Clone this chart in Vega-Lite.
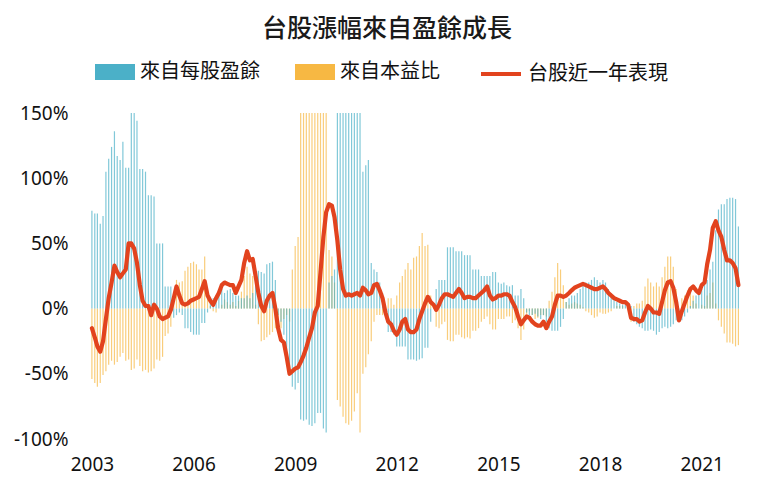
{
  "$schema": "https://vega.github.io/schema/vega-lite/v6.json",
  "autosize": {"type": "none"},
  "width": 672,
  "height": 326,
  "padding": {"left": 78, "top": 113, "right": 10, "bottom": 53},
  "background": "white",
  "title": {"text": "台股漲幅來自盈餘成長", "font": "Noto Sans CJK TC", "fontSize": 25, "fontWeight": 500, "color": "#1a1a1a", "anchor": "middle", "frame": "group", "dx": -27, "offset": 10},
  "config": {"view": {"stroke": null}},
  "data": {"values": [
{"date":"2003-01-01","eps":75,"pe":-54,"perf":-15},
{"date":"2003-02-01","eps":73,"pe":-57,"perf":-22},
{"date":"2003-03-01","eps":73,"pe":-60,"perf":-29},
{"date":"2003-04-01","eps":65,"pe":-57,"perf":-33},
{"date":"2003-05-01","eps":71,"pe":-51,"perf":-25},
{"date":"2003-06-01","eps":105,"pe":-48,"perf":-8},
{"date":"2003-07-01","eps":115,"pe":-43,"perf":8},
{"date":"2003-08-01","eps":124,"pe":-40,"perf":20},
{"date":"2003-09-01","eps":136,"pe":-43,"perf":33},
{"date":"2003-10-01","eps":117,"pe":-41,"perf":28},
{"date":"2003-11-01","eps":114,"pe":-37,"perf":24},
{"date":"2003-12-01","eps":128,"pe":-34,"perf":27},
{"date":"2004-01-01","eps":108,"pe":-40,"perf":30},
{"date":"2004-02-01","eps":108,"pe":-39,"perf":50},
{"date":"2004-03-01","eps":150,"pe":-47,"perf":50},
{"date":"2004-04-01","eps":150,"pe":-46,"perf":46},
{"date":"2004-05-01","eps":144,"pe":-39,"perf":35},
{"date":"2004-06-01","eps":107,"pe":-44,"perf":18},
{"date":"2004-07-01","eps":107,"pe":-48,"perf":6},
{"date":"2004-08-01","eps":105,"pe":-47,"perf":2},
{"date":"2004-09-01","eps":87,"pe":-49,"perf":2},
{"date":"2004-10-01","eps":87,"pe":-48,"perf":-5},
{"date":"2004-11-01","eps":86,"pe":-46,"perf":3},
{"date":"2004-12-01","eps":50,"pe":-39,"perf":0},
{"date":"2005-01-01","eps":50,"pe":-40,"perf":-6},
{"date":"2005-02-01","eps":50,"pe":-37,"perf":-8},
{"date":"2005-03-01","eps":17,"pe":-21,"perf":-7},
{"date":"2005-04-01","eps":17,"pe":-19,"perf":-6},
{"date":"2005-05-01","eps":17,"pe":-14,"perf":-1},
{"date":"2005-06-01","eps":-7,"pe":10,"perf":8},
{"date":"2005-07-01","eps":-5,"pe":22,"perf":17},
{"date":"2005-08-01","eps":-3,"pe":20,"perf":10},
{"date":"2005-09-01","eps":-5,"pe":21,"perf":4},
{"date":"2005-10-01","eps":-15,"pe":29,"perf":3},
{"date":"2005-11-01","eps":-15,"pe":32,"perf":4},
{"date":"2005-12-01","eps":-18,"pe":35,"perf":6},
{"date":"2006-01-01","eps":-20,"pe":36,"perf":7},
{"date":"2006-02-01","eps":-20,"pe":34,"perf":8},
{"date":"2006-03-01","eps":-20,"pe":30,"perf":9},
{"date":"2006-04-01","eps":-11,"pe":30,"perf":15},
{"date":"2006-05-01","eps":-11,"pe":40,"perf":21},
{"date":"2006-06-01","eps":-3,"pe":14,"perf":10},
{"date":"2006-07-01","eps":5,"pe":2,"perf":6},
{"date":"2006-08-01","eps":8,"pe":-2,"perf":3},
{"date":"2006-09-01","eps":10,"pe":-3,"perf":8},
{"date":"2006-10-01","eps":12,"pe":0,"perf":12},
{"date":"2006-11-01","eps":15,"pe":3,"perf":18},
{"date":"2006-12-01","eps":12,"pe":7,"perf":20},
{"date":"2007-01-01","eps":14,"pe":5,"perf":19},
{"date":"2007-02-01","eps":15,"pe":3,"perf":18},
{"date":"2007-03-01","eps":12,"pe":5,"perf":18},
{"date":"2007-04-01","eps":10,"pe":2,"perf":12},
{"date":"2007-05-01","eps":10,"pe":6,"perf":17},
{"date":"2007-06-01","eps":8,"pe":13,"perf":22},
{"date":"2007-07-01","eps":8,"pe":25,"perf":35},
{"date":"2007-08-01","eps":10,"pe":32,"perf":44},
{"date":"2007-09-01","eps":8,"pe":27,"perf":37},
{"date":"2007-10-01","eps":12,"pe":25,"perf":38},
{"date":"2007-11-01","eps":25,"pe":3,"perf":25},
{"date":"2007-12-01","eps":29,"pe":-12,"perf":12},
{"date":"2008-01-01","eps":28,"pe":-25,"perf":2},
{"date":"2008-02-01","eps":27,"pe":-24,"perf":-2},
{"date":"2008-03-01","eps":34,"pe":-22,"perf":6},
{"date":"2008-04-01","eps":35,"pe":-20,"perf":10},
{"date":"2008-05-01","eps":36,"pe":-18,"perf":12},
{"date":"2008-06-01","eps":22,"pe":-15,"perf":0},
{"date":"2008-07-01","eps":-5,"pe":-10,"perf":-15},
{"date":"2008-08-01","eps":-10,"pe":-15,"perf":-24},
{"date":"2008-09-01","eps":-20,"pe":-8,"perf":-26},
{"date":"2008-10-01","eps":-35,"pe":-5,"perf":-37},
{"date":"2008-11-01","eps":-45,"pe":-10,"perf":-50},
{"date":"2008-12-01","eps":-60,"pe":30,"perf":-48},
{"date":"2009-01-01","eps":-62,"pe":48,"perf":-46},
{"date":"2009-02-01","eps":-57,"pe":55,"perf":-45},
{"date":"2009-03-01","eps":-85,"pe":150,"perf":-41},
{"date":"2009-04-01","eps":-86,"pe":150,"perf":-36},
{"date":"2009-05-01","eps":-85,"pe":150,"perf":-30},
{"date":"2009-06-01","eps":-89,"pe":150,"perf":-22},
{"date":"2009-07-01","eps":-90,"pe":150,"perf":-15},
{"date":"2009-08-01","eps":-88,"pe":150,"perf":-3},
{"date":"2009-09-01","eps":-80,"pe":150,"perf":2},
{"date":"2009-10-01","eps":-80,"pe":150,"perf":28},
{"date":"2009-11-01","eps":-92,"pe":150,"perf":55},
{"date":"2009-12-01","eps":-95,"pe":150,"perf":74},
{"date":"2010-01-01","eps":20,"pe":45,"perf":80},
{"date":"2010-02-01","eps":25,"pe":40,"perf":79},
{"date":"2010-03-01","eps":30,"pe":20,"perf":70},
{"date":"2010-04-01","eps":150,"pe":-70,"perf":52},
{"date":"2010-05-01","eps":150,"pe":-75,"perf":30},
{"date":"2010-06-01","eps":150,"pe":-83,"perf":15},
{"date":"2010-07-01","eps":150,"pe":-88,"perf":10},
{"date":"2010-08-01","eps":150,"pe":-89,"perf":11},
{"date":"2010-09-01","eps":150,"pe":-86,"perf":10},
{"date":"2010-10-01","eps":150,"pe":-79,"perf":11},
{"date":"2010-11-01","eps":150,"pe":-65,"perf":12},
{"date":"2010-12-01","eps":150,"pe":-95,"perf":10},
{"date":"2011-01-01","eps":105,"pe":-50,"perf":16},
{"date":"2011-02-01","eps":110,"pe":-45,"perf":14},
{"date":"2011-03-01","eps":114,"pe":-35,"perf":11},
{"date":"2011-04-01","eps":35,"pe":-25,"perf":12},
{"date":"2011-05-01","eps":30,"pe":-10,"perf":18},
{"date":"2011-06-01","eps":28,"pe":-5,"perf":19},
{"date":"2011-07-01","eps":20,"pe":-5,"perf":14},
{"date":"2011-08-01","eps":12,"pe":-5,"perf":8},
{"date":"2011-09-01","eps":-5,"pe":0,"perf":-3},
{"date":"2011-10-01","eps":-18,"pe":8,"perf":-10},
{"date":"2011-11-01","eps":-18,"pe":8,"perf":-12},
{"date":"2011-12-01","eps":-20,"pe":3,"perf":-17},
{"date":"2012-01-01","eps":-29,"pe":10,"perf":-20},
{"date":"2012-02-01","eps":-29,"pe":20,"perf":-16},
{"date":"2012-03-01","eps":-29,"pe":25,"perf":-10},
{"date":"2012-04-01","eps":-29,"pe":30,"perf":-8},
{"date":"2012-05-01","eps":-39,"pe":35,"perf":-16},
{"date":"2012-06-01","eps":-39,"pe":30,"perf":-18},
{"date":"2012-07-01","eps":-39,"pe":39,"perf":-18},
{"date":"2012-08-01","eps":-40,"pe":40,"perf":-16},
{"date":"2012-09-01","eps":-39,"pe":48,"perf":-8},
{"date":"2012-10-01","eps":-38,"pe":58,"perf":-2},
{"date":"2012-11-01","eps":-30,"pe":48,"perf":4},
{"date":"2012-12-01","eps":-30,"pe":49,"perf":9},
{"date":"2013-01-01","eps":-10,"pe":10,"perf":5},
{"date":"2013-02-01","eps":0,"pe":3,"perf":3},
{"date":"2013-03-01","eps":15,"pe":-14,"perf":-1},
{"date":"2013-04-01","eps":22,"pe":-15,"perf":3},
{"date":"2013-05-01","eps":22,"pe":-12,"perf":8},
{"date":"2013-06-01","eps":22,"pe":-10,"perf":11},
{"date":"2013-07-01","eps":47,"pe":-24,"perf":11},
{"date":"2013-08-01","eps":47,"pe":-25,"perf":10},
{"date":"2013-09-01","eps":47,"pe":-25,"perf":9},
{"date":"2013-10-01","eps":44,"pe":-20,"perf":12},
{"date":"2013-11-01","eps":44,"pe":-20,"perf":15},
{"date":"2013-12-01","eps":44,"pe":-22,"perf":12},
{"date":"2014-01-01","eps":41,"pe":-23,"perf":8},
{"date":"2014-02-01","eps":41,"pe":-22,"perf":9},
{"date":"2014-03-01","eps":41,"pe":-23,"perf":9},
{"date":"2014-04-01","eps":30,"pe":-17,"perf":8},
{"date":"2014-05-01","eps":30,"pe":-17,"perf":8},
{"date":"2014-06-01","eps":30,"pe":-15,"perf":10},
{"date":"2014-07-01","eps":25,"pe":-10,"perf":12},
{"date":"2014-08-01","eps":25,"pe":-8,"perf":14},
{"date":"2014-09-01","eps":25,"pe":-6,"perf":17},
{"date":"2014-10-01","eps":25,"pe":-12,"perf":10},
{"date":"2014-11-01","eps":28,"pe":-16,"perf":7},
{"date":"2014-12-01","eps":28,"pe":-16,"perf":8},
{"date":"2015-01-01","eps":20,"pe":-8,"perf":10},
{"date":"2015-02-01","eps":19,"pe":-8,"perf":10},
{"date":"2015-03-01","eps":20,"pe":-8,"perf":11},
{"date":"2015-04-01","eps":18,"pe":-6,"perf":11},
{"date":"2015-05-01","eps":17,"pe":-6,"perf":10},
{"date":"2015-06-01","eps":18,"pe":-11,"perf":5},
{"date":"2015-07-01","eps":10,"pe":-9,"perf":1},
{"date":"2015-08-01","eps":10,"pe":-15,"perf":-6},
{"date":"2015-09-01","eps":15,"pe":-24,"perf":-12},
{"date":"2015-10-01","eps":8,"pe":-16,"perf":-9},
{"date":"2015-11-01","eps":-3,"pe":-4,"perf":-6},
{"date":"2015-12-01","eps":-5,"pe":-2,"perf":-7},
{"date":"2016-01-01","eps":-5,"pe":-5,"perf":-10},
{"date":"2016-02-01","eps":-4,"pe":-8,"perf":-12},
{"date":"2016-03-01","eps":-6,"pe":-7,"perf":-13},
{"date":"2016-04-01","eps":-8,"pe":-5,"perf":-13},
{"date":"2016-05-01","eps":-5,"pe":-5,"perf":-10},
{"date":"2016-06-01","eps":-10,"pe":-6,"perf":-15},
{"date":"2016-07-01","eps":-15,"pe":6,"perf":-10},
{"date":"2016-08-01","eps":-17,"pe":13,"perf":-6},
{"date":"2016-09-01","eps":-17,"pe":24,"perf":3},
{"date":"2016-10-01","eps":-17,"pe":35,"perf":10},
{"date":"2016-11-01","eps":-14,"pe":30,"perf":10},
{"date":"2016-12-01","eps":-8,"pe":18,"perf":9},
{"date":"2017-01-01","eps":5,"pe":5,"perf":10},
{"date":"2017-02-01","eps":8,"pe":3,"perf":12},
{"date":"2017-03-01","eps":10,"pe":4,"perf":14},
{"date":"2017-04-01","eps":10,"pe":5,"perf":16},
{"date":"2017-05-01","eps":12,"pe":4,"perf":17},
{"date":"2017-06-01","eps":15,"pe":3,"perf":18},
{"date":"2017-07-01","eps":18,"pe":1,"perf":19},
{"date":"2017-08-01","eps":20,"pe":-2,"perf":18},
{"date":"2017-09-01","eps":20,"pe":-3,"perf":17},
{"date":"2017-10-01","eps":22,"pe":-5,"perf":16},
{"date":"2017-11-01","eps":24,"pe":-7,"perf":15},
{"date":"2017-12-01","eps":22,"pe":-6,"perf":15},
{"date":"2018-01-01","eps":20,"pe":-3,"perf":16},
{"date":"2018-02-01","eps":22,"pe":-4,"perf":17},
{"date":"2018-03-01","eps":20,"pe":-4,"perf":15},
{"date":"2018-04-01","eps":15,"pe":-3,"perf":12},
{"date":"2018-05-01","eps":12,"pe":-2,"perf":10},
{"date":"2018-06-01","eps":8,"pe":0,"perf":8},
{"date":"2018-07-01","eps":5,"pe":2,"perf":7},
{"date":"2018-08-01","eps":4,"pe":2,"perf":6},
{"date":"2018-09-01","eps":3,"pe":2,"perf":5},
{"date":"2018-10-01","eps":5,"pe":0,"perf":5},
{"date":"2018-11-01","eps":3,"pe":0,"perf":3},
{"date":"2018-12-01","eps":2,"pe":-10,"perf":-7},
{"date":"2019-01-01","eps":-10,"pe":2,"perf":-8},
{"date":"2019-02-01","eps":-12,"pe":4,"perf":-8},
{"date":"2019-03-01","eps":-14,"pe":4,"perf":-10},
{"date":"2019-04-01","eps":-15,"pe":6,"perf":-9},
{"date":"2019-05-01","eps":-17,"pe":17,"perf":-3},
{"date":"2019-06-01","eps":-17,"pe":23,"perf":2},
{"date":"2019-07-01","eps":-16,"pe":20,"perf":0},
{"date":"2019-08-01","eps":-17,"pe":17,"perf":-3},
{"date":"2019-09-01","eps":-20,"pe":20,"perf":-3},
{"date":"2019-10-01","eps":-18,"pe":17,"perf":-4},
{"date":"2019-11-01","eps":-15,"pe":24,"perf":5},
{"date":"2019-12-01","eps":-14,"pe":32,"perf":14},
{"date":"2020-01-01","eps":-15,"pe":40,"perf":20},
{"date":"2020-02-01","eps":-14,"pe":40,"perf":21},
{"date":"2020-03-01","eps":-12,"pe":32,"perf":16},
{"date":"2020-04-01","eps":-9,"pe":15,"perf":5},
{"date":"2020-05-01","eps":-9,"pe":0,"perf":-9},
{"date":"2020-06-01","eps":-9,"pe":8,"perf":-2},
{"date":"2020-07-01","eps":-6,"pe":10,"perf":4},
{"date":"2020-08-01","eps":-3,"pe":14,"perf":10},
{"date":"2020-09-01","eps":2,"pe":13,"perf":15},
{"date":"2020-10-01","eps":6,"pe":10,"perf":17},
{"date":"2020-11-01","eps":10,"pe":4,"perf":14},
{"date":"2020-12-01","eps":12,"pe":0,"perf":12},
{"date":"2021-01-01","eps":15,"pe":3,"perf":18},
{"date":"2021-02-01","eps":18,"pe":2,"perf":20},
{"date":"2021-03-01","eps":22,"pe":10,"perf":34},
{"date":"2021-04-01","eps":30,"pe":12,"perf":45},
{"date":"2021-05-01","eps":36,"pe":20,"perf":62},
{"date":"2021-06-01","eps":60,"pe":4,"perf":67},
{"date":"2021-07-01","eps":76,"pe":-9,"perf":60},
{"date":"2021-08-01","eps":80,"pe":-14,"perf":55},
{"date":"2021-09-01","eps":80,"pe":-19,"perf":45},
{"date":"2021-10-01","eps":84,"pe":-26,"perf":37},
{"date":"2021-11-01","eps":85,"pe":-26,"perf":37},
{"date":"2021-12-01","eps":85,"pe":-27,"perf":35},
{"date":"2022-01-01","eps":84,"pe":-29,"perf":31},
{"date":"2022-02-01","eps":63,"pe":-28,"perf":18}
  ]},
  "encoding": {
    "x": {
      "field": "date", "type": "temporal",
      "scale": {"domain": [{"year": 2002, "month": 9, "date": 27}, {"year": 2022, "month": 4, "date": 13}]},
      "axis": {
        "title": null, "domain": false, "ticks": false, "grid": false,
        "values": [{"year": 2003, "month": 1, "date": 1}, {"year": 2006, "month": 1, "date": 1}, {"year": 2009, "month": 1, "date": 1}, {"year": 2012, "month": 1, "date": 1}, {"year": 2015, "month": 1, "date": 1}, {"year": 2018, "month": 1, "date": 1}, {"year": 2021, "month": 1, "date": 1}],
        "format": "%Y", "labelFont": "Noto Sans", "labelFontSize": 19, "labelColor": "#111", "labelPadding": 16, "labelFlush": false
      }
    }
  },
  "layer": [
    {
      "transform": [{"fold": ["eps", "pe"], "as": ["key", "value"]},
                    {"lookup": "key", "from": {"data": {"values": [{"key": "eps", "name": "來自每股盈餘"}, {"key": "pe", "name": "來自本益比"}]}, "key": "key", "fields": ["name"]}}],
      "mark": {"type": "bar", "size": 1.2, "opacity": 0.7},
      "encoding": {
        "y": {"field": "value", "type": "quantitative", "stack": null,
          "scale": {"domain": [-100, 150], "nice": false},
          "axis": {"title": null, "domain": false, "ticks": false, "grid": false, "values": [-100, -50, 0, 50, 100, 150], "labelExpr": "datum.value + '%'", "labelFont": "Noto Sans", "labelFontSize": 19, "labelColor": "#111", "labelPadding": 10}},
        "color": {"field": "name", "type": "nominal",
          "scale": {"domain": ["來自每股盈餘", "來自本益比"], "range": ["#4BB0C8", "#F7B843"]},
          "legend": {"title": null, "orient": "none", "legendX": 17, "legendY": -61, "direction": "horizontal", "symbolType": "M-1,-0.4H1V0.4H-1Z", "symbolSize": 1600, "symbolStrokeWidth": 0, "symbolOpacity": 1, "labelFont": "Noto Sans CJK TC", "labelFontSize": 20, "labelColor": "#111", "labelOffset": 5, "columnPadding": 35}},
        "order": {"field": "key", "sort": "descending"}
      }
    },
    {
      "mark": {"type": "line", "strokeWidth": 4.2, "strokeJoin": "round", "strokeCap": "round"},
      "encoding": {
        "y": {"field": "perf", "type": "quantitative"},
        "stroke": {"datum": "台股近一年表現", "type": "nominal",
          "scale": {"range": ["#E2431E"]},
          "legend": {"title": null, "orient": "none", "legendX": 401, "legendY": -61, "symbolType": "stroke", "symbolSize": 1600, "symbolStrokeWidth": 4, "labelFont": "Noto Sans CJK TC", "labelFontSize": 20, "labelColor": "#111", "labelOffset": 5}}
      }
    }
  ]
}
